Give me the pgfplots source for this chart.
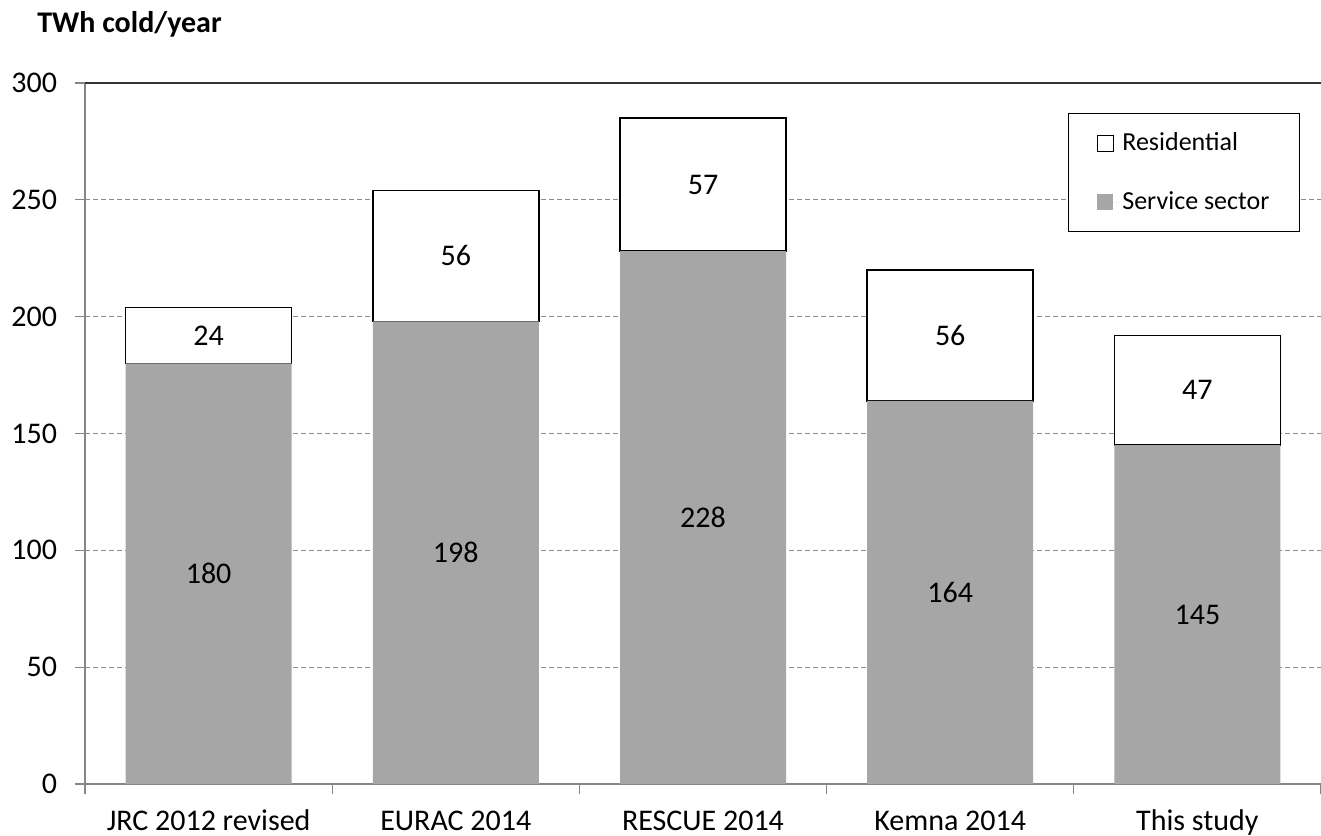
\documentclass[border=0pt]{standalone}
\usepackage{pgfplots}
\pgfplotsset{compat=1.18}
\usepackage{fontspec}
\setmainfont{Carlito}
\definecolor{barg}{HTML}{A6A6A6}
\definecolor{axg}{HTML}{868686}
\pgfplotstableread{
x y label
0 90 180
1 99 198
2 114 228
3 82 164
4 72.5 145
0 192 24
1 226 56
2 256.5 57
3 192 56
4 168.5 47
}\labeltable
\begin{document}
\begin{tikzpicture}[font=\fontsize{15bp}{18bp}\selectfont]
\begin{axis}[
  name=ax,
  scale only axis,
  width=618bp, height=350.5bp,
  ybar stacked, bar width=83bp,
  xmin=-0.5, xmax=4.5, ymin=0, ymax=300,
  axis x line*=bottom, axis y line*=left,
  axis line style={axg, line width=0.6bp},
  /pgf/number format/assume math mode=true,
  xtick={0,1,2,3,4},
  xticklabels={JRC 2012 revised, EURAC 2014, RESCUE 2014, Kemna 2014, This study},
  xticklabel style={anchor=base, yshift=-18bp},
  xtick style={draw=none},
  extra x ticks={-0.5,0.5,1.5,2.5,3.5,4.5},
  extra x tick labels={},
  extra x tick style={xtick style={draw=axg, line width=0.6bp}, major tick length=5bp, tick align=outside},
  ytick={0,50,...,300},
  ytick style={draw=axg, line width=0.6bp},
  major tick length=5bp, tick align=outside,
  yticklabel style={anchor=east, xshift=-5.5bp},
  ymajorgrids,
  major grid style={dash pattern=on 2.5bp off 1.5bp, black!45, line width=0.5bp},
  reverse legend,
  legend style={at={(0.983,0.957)}, anchor=north east, draw=black, line width=0.6bp,
    inner xsep=14bp, inner ysep=8.5bp, row sep=17bp, nodes={inner sep=1bp},
    font=\fontsize{13bp}{15bp}\selectfont},
  legend cell align=left,
]
\addplot[fill=barg, draw=none,
  legend image code/.code={\fill[barg] (0bp,-4bp) rectangle (8bp,4bp); \path[draw=none] (0bp,0bp) -- (11.5bp,0bp);}]
  coordinates {(0,180) (1,198) (2,228) (3,164) (4,145)};
\addlegendentry{Service sector}
\addplot[fill=white, draw=black, line width=0.75bp,
  legend image code/.code={\draw[black, fill=white, line width=0.6bp] (0bp,-4bp) rectangle (8bp,4bp); \path[draw=none] (0bp,0bp) -- (11.5bp,0bp);}]
  coordinates {(0,24) (1,56) (2,57) (3,56) (4,47)};
\addlegendentry{Residential}
\end{axis}
\begin{axis}[
  at={(ax.south west)}, anchor=south west,
  scale only axis,
  width=618bp, height=350.5bp,
  xmin=-0.5, xmax=4.5, ymin=0, ymax=300,
  hide axis,
]
\addplot[draw=none, nodes near coords, point meta=explicit symbolic,
  nodes near coords align={anchor=center},
  every node near coord/.append style={anchor=center, text=black, inner sep=0pt,
    font=\fontsize{15bp}{18bp}\selectfont}]
  table[x=x, y=y, meta=label] {\labeltable};
\end{axis}
\draw[black!80, line width=0.6bp] (ax.north west) -- (ax.north east);
\node[anchor=base west, font=\bfseries\fontsize{15bp}{18bp}\selectfont, inner sep=0pt]
  at ([xshift=-24bp, yshift=25bp]ax.north west) {TWh cold/year};
\pgfresetboundingbox
\path ([xshift=-42.5bp,yshift=-26bp]ax.south west) rectangle ([yshift=41.5bp]ax.north east);
\end{tikzpicture}
\end{document}
